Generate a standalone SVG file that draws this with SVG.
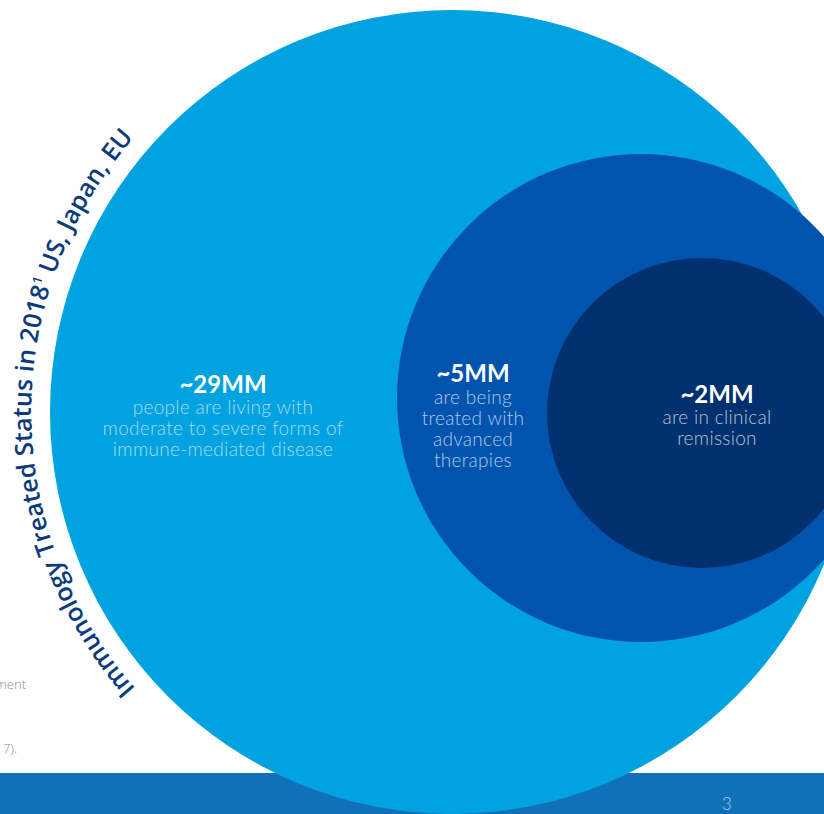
<svg xmlns="http://www.w3.org/2000/svg" width="824" height="814" viewBox="0 0 824 814">
<defs>
<style>
.big{font-family:Lato,"Open Sans","Liberation Sans",sans-serif;font-weight:700;font-size:24px;fill:#ffffff;text-anchor:middle}
.sub{font-family:Lato,"Open Sans","Liberation Sans",sans-serif;font-weight:300;font-size:19px;letter-spacing:0.3px;text-anchor:middle}
.arc{font-family:"Open Sans","Noto Sans","Liberation Sans",sans-serif;font-weight:600;font-size:25px;fill:#0b3b7c}
.foot{font-family:"Open Sans","Liberation Sans",sans-serif;font-weight:300;font-size:13px;fill:#8a8a8a;text-anchor:end}
</style>
<path id="arcPath" d="M 157.3 711.3 A 418 418 0 0 1 155.6 114.7" fill="none"/>
</defs>
<rect width="824" height="814" fill="#ffffff"/>
<rect id="band" x="0" y="773" width="824" height="41" fill="#1071b9"/>
<g id="outer">
<circle cx="452" cy="412" r="402" fill="#00a2df"/>
<text class="big" x="223" y="393">~29MM</text>
<text class="sub" fill="#aadcf4"><tspan x="223" y="414">people are living with</tspan><tspan x="223" y="435">moderate to severe forms of</tspan><tspan x="223" y="456">immune-mediated disease</tspan></text>
</g>
<g id="middle">
<circle cx="641" cy="398" r="244" fill="#0054ad"/>
<text class="big" x="473" y="382">~5MM</text>
<text class="sub" fill="#b3c9ea"><tspan x="473" y="404">are being</tspan><tspan x="473" y="425">treated with</tspan><tspan x="473" y="446">advanced</tspan><tspan x="473" y="467">therapies</tspan></text>
</g>
<g id="inner">
<circle cx="702" cy="413" r="155" fill="#00306d"/>
<text class="big" x="717" y="403">~2MM</text>
<text class="sub" fill="#b6c3d8"><tspan x="717" y="424">are in clinical</tspan><tspan x="717" y="445">remission</tspan></text>
</g>
<g id="arc-title">
<text class="arc"><textPath href="#arcPath" startOffset="50%" text-anchor="middle">Immunology Treated Status in 2018<tspan font-size="13" dy="-10">1</tspan><tspan dy="10"> US, Japan, EU</tspan></textPath></text>
</g>
<g id="footnotes">
<text class="foot" x="26" y="689">ment</text>
<text class="foot" x="17" y="753">7).</text>
</g>
<text id="page" x="727" y="810" font-family="Lato,'Open Sans','Liberation Sans',sans-serif" font-weight="300" font-size="17" fill="#a9cdec" text-anchor="middle">3</text>
<g id="connectors"/>
</svg>
